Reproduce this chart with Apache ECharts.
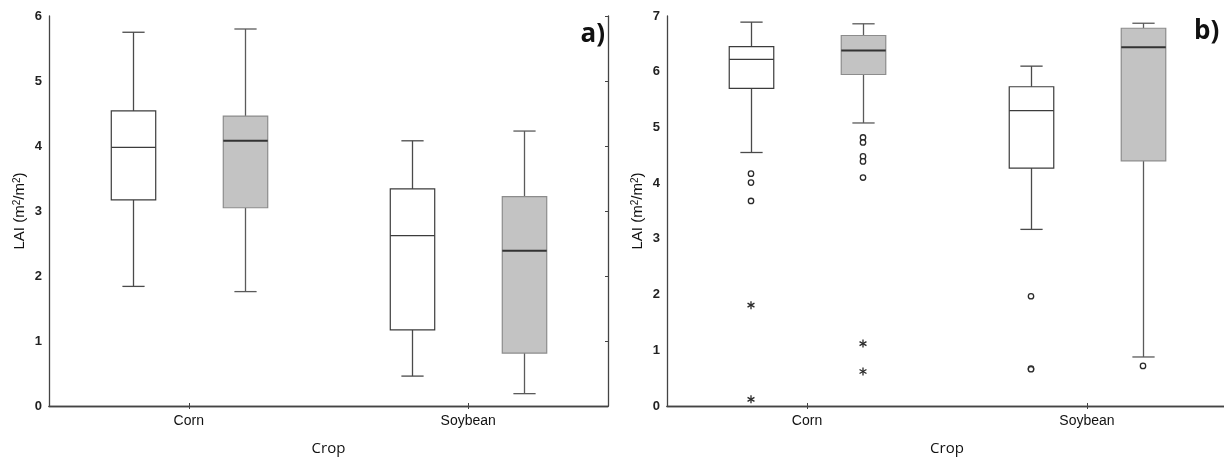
<!DOCTYPE html>
<html>
<head>
<meta charset="utf-8">
<script src="https://cdn.jsdelivr.net/npm/echarts@6/dist/echarts.min.js"></script>
<style>html,body{margin:0;padding:0;background:#fff;}#c{width:1224px;height:458px;}</style>
</head>
<body>
<div id="c"></div>
<script>
const categories = ['Corn', 'Soybean'];
// [categoryIndex, min, Q1, median, Q3, max]
const aWhite = [[0, 1.84, 3.17, 3.98, 4.54, 5.75], [1, 0.46, 1.17, 2.62, 3.34, 4.08]];
const aGray  = [[0, 1.76, 3.05, 4.08, 4.46, 5.80], [1, 0.19, 0.815, 2.39, 3.22, 4.23]];
const bWhite = [[0, 4.55, 5.70, 6.22, 6.45, 6.89], [1, 3.17, 4.27, 5.30, 5.73, 6.10]];
const bGray  = [[0, 5.08, 5.95, 6.38, 6.65, 6.86], [1, 0.88, 4.40, 6.44, 6.78, 6.87]];
// outliers (circles) and extremes (asterisks): [categoryIndex, value]
const bWhiteOutliers = [[0, 4.17], [0, 4.01], [0, 3.68], [1, 1.97], [1, 0.67], [1, 0.66]];
const bWhiteExtremes = [[0, 1.81], [0, 0.12]];
const bGrayOutliers  = [[0, 4.82], [0, 4.73], [0, 4.48], [0, 4.39], [0, 4.10], [1, 0.72]];
const bGrayExtremes  = [[0, 1.12], [0, 0.62]];
const yMaxA = 6, yMaxB = 7;
const panelLabels = ['a)', 'b)'];
const xName = 'Crop';

const OFF = 0.2, WID = 0.159;
const whiteStyle = { fill: '#ffffff', border: '#3c3c3c', whisker: '#4a4a4a', median: '#3c3c3c', medianW: 1.2 };
const grayStyle  = { fill: '#c3c3c3', border: '#8c8c8c', whisker: '#5a5a5a', median: '#333333', medianW: 2 };

function boxRenderer(offsetFrac, st) {
  return function (params, api) {
    const c = api.value(0);
    const band = api.size([1, 0])[0];
    const cx = Math.round(api.coord([c, 0])[0] + offsetFrac * band) + 0.5;
    const hw = WID * band / 2;
    const capHw = hw / 2;
    const y = i => api.coord([c, api.value(i)])[1];
    const yMin = y(1), yQ1 = y(2), yMed = y(3), yQ3 = y(4), yMax = y(5);
    const ws = { stroke: st.whisker, lineWidth: 1.3 };
    return {
      type: 'group',
      children: [
        { type: 'line', shape: { x1: cx, y1: yMin, x2: cx, y2: yQ1 }, style: ws },
        { type: 'line', shape: { x1: cx, y1: yQ3, x2: cx, y2: yMax }, style: ws },
        { type: 'line', shape: { x1: cx - capHw, y1: yMin, x2: cx + capHw, y2: yMin }, style: ws },
        { type: 'line', shape: { x1: cx - capHw, y1: yMax, x2: cx + capHw, y2: yMax }, style: ws },
        { type: 'rect', shape: { x: cx - hw, y: yQ3, width: 2 * hw, height: yQ1 - yQ3 },
          style: { fill: st.fill, stroke: st.border, lineWidth: 1.2 } },
        { type: 'line', shape: { x1: cx - hw, y1: yMed, x2: cx + hw, y2: yMed },
          style: { stroke: st.median, lineWidth: st.medianW } }
      ]
    };
  };
}

function pointRenderer(offsetFrac, kind) {
  return function (params, api) {
    const c = api.value(0);
    const band = api.size([1, 0])[0];
    const p = api.coord([c, api.value(1)]);
    const cx = p[0] + offsetFrac * band, cy = p[1];
    if (kind === 'circle') {
      return { type: 'circle', shape: { cx: cx, cy: cy, r: 2.7 },
        style: { fill: '#fff', stroke: '#2a2a2a', lineWidth: 1.3 } };
    }
    const r = 4, s = { stroke: '#2a2a2a', lineWidth: 1.3 };
    const ch = [];
    for (let k = 0; k < 3; k++) {
      const a = Math.PI / 2 + k * Math.PI / 3;
      ch.push({ type: 'line', shape: { x1: cx - r * Math.cos(a), y1: cy - r * Math.sin(a), x2: cx + r * Math.cos(a), y2: cy + r * Math.sin(a) }, style: s });
    }
    return { type: 'group', children: ch };
  };
}

function boxSeries(gi, data, off, st) {
  return { type: 'custom', xAxisIndex: gi * 2, yAxisIndex: gi * 2, data: data,
    encode: { x: 0, y: [1, 2, 3, 4, 5] }, renderItem: boxRenderer(off, st), silent: true, z: 3 };
}
function ptSeries(gi, data, off, kind) {
  return { type: 'custom', xAxisIndex: gi * 2, yAxisIndex: gi * 2, data: data,
    encode: { x: 0, y: 1 }, renderItem: pointRenderer(off, kind), silent: true, z: 4 };
}

const grids = [
  { left: 49, top: 16, width: 559, height: 390, containLabel: false, outerBoundsMode: 'none' },
  { left: 667, top: 16, width: 560, height: 390, containLabel: false, outerBoundsMode: 'none' }
];

const xAxes = [], yAxes = [];
grids.forEach((g, gi) => {
  const ymax = gi === 0 ? yMaxA : yMaxB;
  xAxes.push({
    type: 'category', gridIndex: gi, data: categories, position: 'bottom',
    axisLine: { show: true, lineStyle: { color: '#444', width: 1.3 } },
    axisTick: { show: true, inside: true, alignWithLabel: true, length: 3, lineStyle: { color: '#444' } },
    axisLabel: { color: '#111', fontSize: 14, fontFamily: 'Liberation Sans, Arial', margin: 8 },
    name: xName, nameLocation: 'middle', nameGap: 35,
    nameTextStyle: { color: '#111', fontSize: 15, fontFamily: 'Open Sans, Liberation Sans' },
    splitLine: { show: false }
  });
  xAxes.push({
    type: 'category', gridIndex: gi, data: categories, position: 'top',
    axisLine: { show: true, lineStyle: { color: '#444', width: 1.3 } },
    axisTick: { show: true, inside: true, alignWithLabel: true, length: 3, lineStyle: { color: '#444' } },
    axisLabel: { show: false }, splitLine: { show: false }
  });
  yAxes.push({
    type: 'value', gridIndex: gi, min: 0, max: ymax, interval: 1, position: 'left',
    axisLine: { show: true, lineStyle: { color: '#444', width: 1.3 } },
    axisTick: { show: false },
    axisLabel: { color: '#222', fontSize: 13, fontWeight: 'bold', fontFamily: 'Liberation Sans, Arial', margin: 7 },
    splitLine: { show: false },
    name: 'LAI (m{sup|2}/m{sup|2})', nameLocation: 'middle', nameGap: 21, nameRotate: 90,
    nameTextStyle: { color: '#111', fontSize: 15, fontFamily: 'Liberation Sans, Arial',
      rich: { sup: { fontSize: 10, verticalAlign: 'top', color: '#111', fontFamily: 'Liberation Sans, Arial', padding: [0, 0, 6, 0] } } }
  });
  yAxes.push({
    type: 'value', gridIndex: gi, min: 0, max: ymax, interval: 1, position: 'right',
    axisLine: { show: true, lineStyle: { color: '#444', width: 1.3 } },
    axisTick: { show: true, inside: true, length: 3, lineStyle: { color: '#444' } },
    axisLabel: { show: false }, splitLine: { show: false }
  });
});

const chart = echarts.init(document.getElementById('c'), null, { renderer: 'canvas' });
chart.setOption({
  animation: false,
  backgroundColor: '#fff',
  grid: grids,
  xAxis: xAxes,
  yAxis: yAxes,
  series: [
    boxSeries(0, aWhite, -OFF, whiteStyle),
    boxSeries(0, aGray, OFF, grayStyle),
    boxSeries(1, bWhite, -OFF, whiteStyle),
    boxSeries(1, bGray, OFF, grayStyle),
    ptSeries(1, bWhiteOutliers, -OFF, 'circle'),
    ptSeries(1, bWhiteExtremes, -OFF, 'star'),
    ptSeries(1, bGrayOutliers, OFF, 'circle'),
    ptSeries(1, bGrayExtremes, OFF, 'star')
  ],
  graphic: [
    { type: 'text', right: 1224 - 605, top: 22, style: { text: panelLabels[0], fontSize: 26, fontWeight: 'bold', fill: '#111', fontFamily: 'Open Sans, Liberation Sans' } },
    { type: 'text', left: 1194, top: 19, style: { text: panelLabels[1], fontSize: 26, fontWeight: 'bold', fill: '#111', fontFamily: 'Open Sans, Liberation Sans' } }
  ]
});
</script>
</body>
</html>
